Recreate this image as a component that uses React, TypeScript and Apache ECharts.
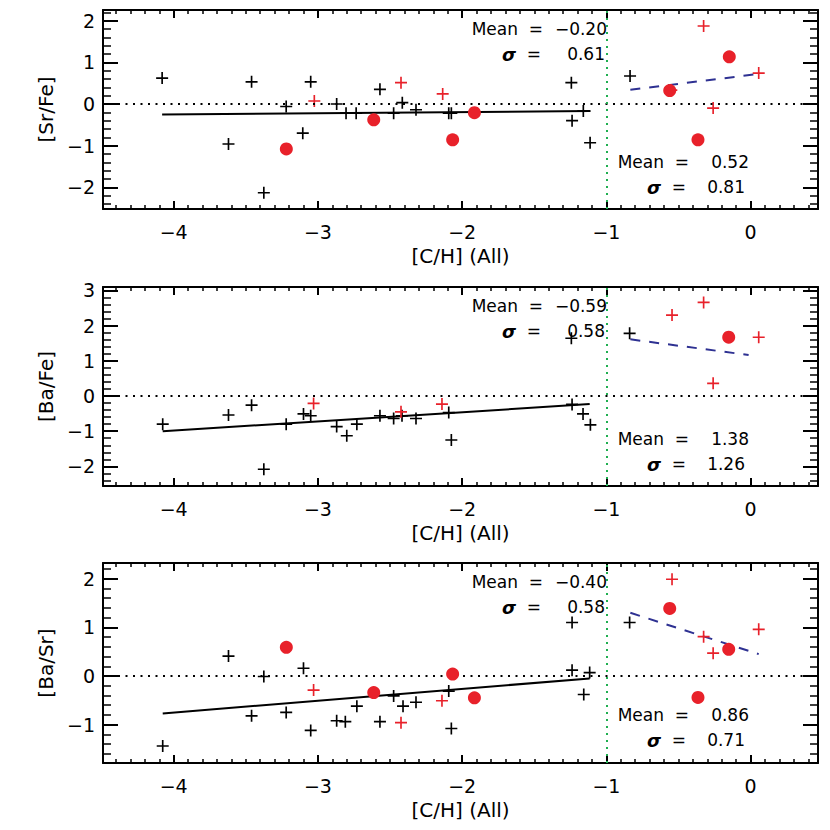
import React, { useEffect, useRef } from 'react';
import * as echarts from 'echarts';

// ---------- data ----------
const xRange = [-4.49, 0.467];
const xTickLabels = [-4, -3, -2, -1, 0];
const xName = '[C/H] (All)';

const panelNames = ['[Sr/Fe]', '[Ba/Fe]', '[Ba/Sr]'];
const yRanges = [[-2.52, 2.254], [-2.557, 3.097], [-1.79, 2.325]];
const yTickLabels = [[-2, -1, 0, 1, 2], [-2, -1, 0, 1, 2, 3], [-1, 0, 1, 2]];

// Panel 1: [Sr/Fe]
const srFeBlack = [[-4.08, 0.62], [-3.62, -0.96], [-3.46, 0.53], [-3.375, -2.13], [-3.22, -0.06], [-3.105, -0.70], [-3.05, 0.53], [-2.87, 0.0], [-2.805, -0.22], [-2.735, -0.22], [-2.57, 0.35], [-2.475, -0.22], [-2.415, 0.03], [-2.32, -0.14], [-2.093, -0.22], [-2.075, -0.22], [-1.243, 0.51], [-1.238, -0.40], [-1.16, -0.17], [-1.113, -0.93], [-0.836, 0.67]];
const srFeRedPlus = [[-3.025, 0.07], [-2.424, 0.51], [-2.135, 0.24], [-0.55, 0.33], [-0.326, 1.87], [-0.26, -0.10], [0.056, 0.74]];
const srFeRedDot = [[-3.219, -1.08], [-2.613, -0.38], [-2.066, -0.86], [-1.915, -0.21], [-0.561, 0.32], [-0.365, -0.86], [-0.148, 1.13]];
const srFeFit = [[-4.08, -0.25], [-1.11, -0.17]];
const srFeFitHigh = [[-0.834, 0.34], [0.056, 0.72]];

// Panel 2: [Ba/Fe]
const baFeBlack = [[-4.076, -0.80], [-3.62, -0.54], [-3.46, -0.26], [-3.375, -2.08], [-3.22, -0.80], [-3.10, -0.51], [-3.05, -0.56], [-2.87, -0.87], [-2.80, -1.13], [-2.73, -0.80], [-2.57, -0.56], [-2.475, -0.64], [-2.417, -0.56], [-2.32, -0.64], [-2.093, -0.47], [-2.075, -1.25], [-1.243, 1.64], [-1.238, -0.24], [-1.162, -0.51], [-1.111, -0.82], [-0.839, 1.78]];
const baFeRedPlus = [[-3.03, -0.21], [-2.424, -0.45], [-2.14, -0.23], [-0.545, 2.30], [-0.326, 2.66], [-0.26, 0.36], [0.056, 1.67]];
const baFeRedDot = [[-0.152, 1.67]];
const baFeFit = [[-4.076, -1.0], [-1.116, -0.23]];
const baFeFitHigh = [[-0.834, 1.61], [-0.014, 1.165]];

// Panel 3: [Ba/Sr]
const baSrBlack = [[-4.076, -1.44], [-3.62, 0.41], [-3.46, -0.82], [-3.375, -0.01], [-3.22, -0.75], [-3.10, 0.16], [-3.05, -1.12], [-2.87, -0.92], [-2.81, -0.94], [-2.73, -0.62], [-2.57, -0.94], [-2.475, -0.41], [-2.41, -0.62], [-2.32, -0.54], [-2.093, -0.31], [-2.075, -1.08], [-1.238, 1.10], [-1.238, 0.12], [-1.157, -0.38], [-1.116, 0.07], [-0.839, 1.10]];
const baSrRedPlus = [[-3.03, -0.29], [-2.424, -0.96], [-2.14, -0.51], [-0.545, 1.99], [-0.326, 0.81], [-0.26, 0.47], [0.056, 0.96]];
const baSrRedDot = [[-3.219, 0.59], [-2.613, -0.34], [-2.066, 0.04], [-1.915, -0.45], [-0.561, 1.39], [-0.365, -0.44], [-0.152, 0.55]];
const baSrFit = [[-4.076, -0.77], [-1.116, -0.05]];
const baSrFitHigh = [[-0.834, 1.30], [0.056, 0.45]];

const lowMean = ['\u22120.20', '\u22120.59', '\u22120.40'];
const lowSigma = ['0.61', '0.58', '0.58'];
const highMean = ['0.52', '1.38', '0.86'];
const highSigma = ['0.81', '1.26', '0.71'];

const blackSets = [srFeBlack, baFeBlack, baSrBlack];
const redPlusSets = [srFeRedPlus, baFeRedPlus, baSrRedPlus];
const redDotSets = [srFeRedDot, baFeRedDot, baSrRedDot];
const fitSets = [srFeFit, baFeFit, baSrFit];
const fitHighSets = [srFeFitHigh, baFeFitHigh, baSrFitHigh];

// ---------- layout / style ----------
const gridTops = [10, 287, 563];
const gridHeights = [199, 199, 200];
const GRID_LEFT = 103;
const GRID_RIGHT = 12;
const RED = '#e8212a';
const BLUE = '#2e3192';
const GREEN = '#1fae50';
const FONT = 'DejaVu Sans';
const PLUS = 'path://M5.6,0H7.4V5.6H13V7.4H7.4V13H5.6V7.4H0V5.6H5.6Z';

function minorTicks(lo: number, hi: number, step: number, majors: number[]) {
  const out: number[] = [];
  const start = Math.ceil(lo / step - 1e-9);
  const end = Math.floor(hi / step + 1e-9);
  for (let i = start; i <= end; i++) {
    const v = Math.round(i * step * 1000) / 1000;
    if (!majors.some((m) => Math.abs(m - v) < 1e-6)) out.push(v);
  }
  return out;
}

const fmt = (v: number) => (v < 0 ? '\u2212' + Math.abs(v) : String(v));

function buildOption() {
  const xAxes: any[] = [];
  const yAxes: any[] = [];
  const grids: any[] = [];
  const series: any[] = [];
  const graphics: any[] = [];
  const xMinor = minorTicks(xRange[0], xRange[1], 0.1, xTickLabels);

  for (let p = 0; p < 3; p++) {
    grids.push({ left: GRID_LEFT, right: GRID_RIGHT, top: gridTops[p], height: gridHeights[p] });
    const yMinor = minorTicks(yRanges[p][0], yRanges[p][1], 0.2, yTickLabels[p]);
    const baseX = {
      type: 'value', gridIndex: p, min: xRange[0], max: xRange[1],
      splitLine: { show: false },
    };
    const baseY = {
      type: 'value', gridIndex: p, min: yRanges[p][0], max: yRanges[p][1],
      splitLine: { show: false },
    };
    const line = { show: true, onZero: false, lineStyle: { color: '#000', width: 2 } };
    const noLine = { show: false, onZero: false };
    xAxes.push({
      ...baseX, position: 'bottom',
      axisLine: line,
      axisTick: { show: true, inside: true, length: 8, customValues: xTickLabels, lineStyle: { color: '#000', width: 2 } },
      axisLabel: { show: true, customValues: xTickLabels, formatter: (v: number) => fmt(v), color: '#000', fontSize: 19, fontFamily: FONT, margin: 13 },
      name: xName, nameLocation: 'middle', nameGap: 37,
      nameTextStyle: { color: '#000', fontSize: 20, fontFamily: FONT },
    });
    xAxes.push({
      ...baseX, position: 'bottom', axisLine: noLine,
      axisTick: { show: true, inside: true, length: 4, customValues: xMinor, lineStyle: { color: '#000', width: 1.5 } },
      axisLabel: { show: false },
    });
    xAxes.push({
      ...baseX, position: 'top', axisLine: line,
      axisTick: { show: true, inside: true, length: 8, customValues: xTickLabels, lineStyle: { color: '#000', width: 2 } },
      axisLabel: { show: false },
    });
    xAxes.push({
      ...baseX, position: 'top', axisLine: noLine,
      axisTick: { show: true, inside: true, length: 4, customValues: xMinor, lineStyle: { color: '#000', width: 1.5 } },
      axisLabel: { show: false },
    });
    yAxes.push({
      ...baseY, position: 'left', axisLine: line,
      axisTick: { show: true, inside: true, length: 15, customValues: yTickLabels[p], lineStyle: { color: '#000', width: 2 } },
      axisLabel: { show: true, customValues: yTickLabels[p], formatter: (v: number) => fmt(v), color: '#000', fontSize: 19, fontFamily: FONT, margin: 8 },
      name: panelNames[p], nameLocation: 'middle', nameGap: 47, nameRotate: 90,
      nameTextStyle: { color: '#000', fontSize: 20, fontFamily: FONT },
    });
    yAxes.push({
      ...baseY, position: 'left', axisLine: noLine,
      axisTick: { show: true, inside: true, length: 8, customValues: yMinor, lineStyle: { color: '#000', width: 1.5 } },
      axisLabel: { show: false },
    });
    yAxes.push({
      ...baseY, position: 'right', axisLine: line,
      axisTick: { show: true, inside: true, length: 15, customValues: yTickLabels[p], lineStyle: { color: '#000', width: 2 } },
      axisLabel: { show: false },
    });
    yAxes.push({
      ...baseY, position: 'right', axisLine: noLine,
      axisTick: { show: true, inside: true, length: 8, customValues: yMinor, lineStyle: { color: '#000', width: 1.5 } },
      axisLabel: { show: false },
    });

    const xi = p * 4;
    const yi = p * 4;
    series.push({
      type: 'line', xAxisIndex: xi, yAxisIndex: yi, data: fitSets[p], symbol: 'none',
      lineStyle: { color: '#000', width: 2 }, silent: true, z: 3,
      markLine: {
        silent: true, symbol: ['none', 'none'], label: { show: false },
        data: [
          { yAxis: 0, lineStyle: { color: '#000', width: 2, type: [2, 5.5] } },
          { xAxis: -1, lineStyle: { color: GREEN, width: 2, type: [2, 5] } },
        ],
      },
    });
    series.push({
      type: 'line', xAxisIndex: xi, yAxisIndex: yi, data: fitHighSets[p], symbol: 'none',
      lineStyle: { color: BLUE, width: 2, type: [10, 9] }, silent: true, z: 3,
    });
    series.push({
      type: 'scatter', xAxisIndex: xi, yAxisIndex: yi, data: blackSets[p],
      symbol: PLUS, symbolSize: 12, itemStyle: { color: '#000', opacity: 1 }, z: 4,
    });
    series.push({
      type: 'scatter', xAxisIndex: xi, yAxisIndex: yi, data: redPlusSets[p],
      symbol: PLUS, symbolSize: 12, itemStyle: { color: RED, opacity: 1 }, z: 4,
    });
    series.push({
      type: 'scatter', xAxisIndex: xi, yAxisIndex: yi, data: redDotSets[p],
      symbol: 'circle', symbolSize: 13, itemStyle: { color: RED, opacity: 1 }, z: 5,
    });

    const top = gridTops[p];
    const txt = (x: number, y: number, text: string) => ({
      type: 'text', x, y, z: 10,
      style: {
        text, align: 'right', verticalAlign: 'middle', fill: '#000',
        fontSize: 17, fontFamily: FONT,
        rich: { s: { fontSize: 18, fontWeight: 'bold', fontStyle: 'italic', fontFamily: FONT, fill: '#000' } },
      },
    });
    graphics.push(txt(543, top + 19, 'Mean  ='));
    graphics.push(txt(607, top + 19, lowMean[p]));
    graphics.push(txt(541, top + 44, '{s|\u03c3}  ='));
    graphics.push(txt(605, top + 44, lowSigma[p]));
    graphics.push(txt(689, top + 152, 'Mean  ='));
    graphics.push(txt(749, top + 152, highMean[p]));
    graphics.push(txt(686, top + 177, '{s|\u03c3}  ='));
    graphics.push(txt(745, top + 177, highSigma[p]));
  }

  return {
    animation: false,
    backgroundColor: '#fff',
    grid: grids,
    xAxis: xAxes,
    yAxis: yAxes,
    series,
    graphic: graphics,
  };
}

export default function App() {
  const ref = useRef<HTMLDivElement>(null);
  useEffect(() => {
    if (!ref.current) return;
    const chart = echarts.init(ref.current, undefined, { renderer: 'svg' });
    chart.setOption(buildOption() as any);
    return () => chart.dispose();
  }, []);
  return (
    <div
      ref={ref}
      style={{ position: 'absolute', left: 0, top: 0, width: 830, height: 830, background: '#fff' }}
    />
  );
}
